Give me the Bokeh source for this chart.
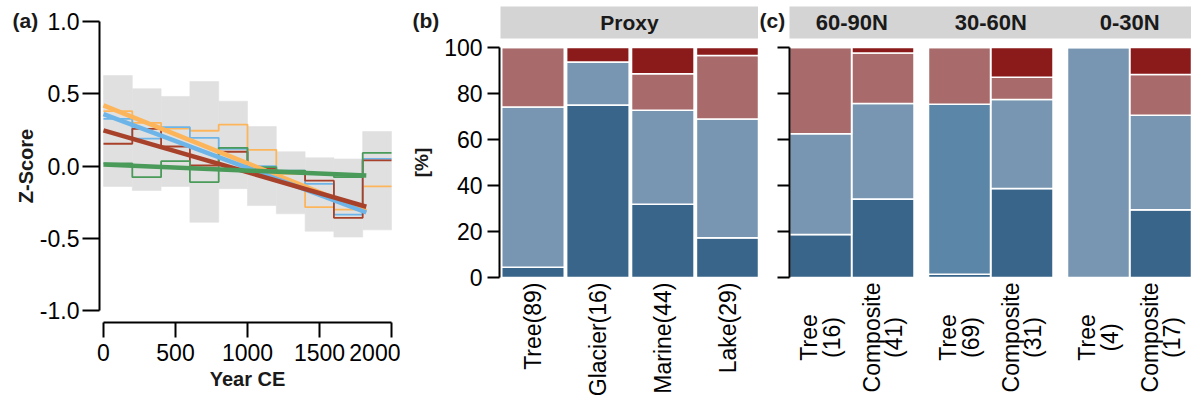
import math
from bokeh.plotting import figure
from bokeh.layouts import row
from bokeh.models import ColumnDataSource, FixedTicker, Range1d, LinearAxis
from bokeh.embed import file_html
from bokeh.resources import INLINE
from bokeh.core.properties import value

# ---------------- panel (a) data ----------------
bin_start = [0, 200, 400, 600, 800, 1000, 1200, 1400, 1600, 1800]
bin_width = 200
band_upper = [0.627, 0.535, 0.482, 0.585, 0.449, 0.274, 0.100, 0.058, 0.050, 0.240]
band_lower = [-0.140, -0.168, -0.140, -0.387, -0.155, -0.272, -0.329, -0.449, -0.490, -0.440]
orange_step = [0.38, 0.30, 0.26, 0.245, 0.288, 0.113, -0.053, -0.283, -0.300, -0.140]
blue_step = [0.327, 0.19, 0.27, 0.196, 0.12, 0.0, -0.03, -0.122, -0.334, 0.05]
brown_step = [0.155, 0.258, 0.136, 0.005, 0.100, -0.018, -0.040, -0.100, -0.357, 0.040]
green_step = [0.020, -0.076, 0.035, -0.110, 0.127, -0.007, -0.030, -0.050, -0.076, 0.092]
trend_years = [0, 1825]
orange_trend = [0.42, -0.31]
blue_trend = [0.36, -0.32]
brown_trend = [0.247, -0.28]
green_trend = [0.012, -0.065]
z_ticks = [-1.0, -0.5, 0.0, 0.5, 1.0]
z_labels = ["-1.0", "-0.5", "0.0", "0.5", "1.0"]
year_ticks = [0, 500, 1000, 1500, 2000]

# ---------------- panel (b) data ----------------
proxy_names = ["Tree", "Glacier", "Marine", "Lake"]
proxy_n = [89, 16, 44, 29]
proxy_dark_blue = [4, 12, 14, 5]
proxy_mid_blue = [0, 0, 0, 0]
proxy_light_blue = [62, 3, 18, 15]
proxy_light_red = [23, 0, 7, 8]
proxy_dark_red = [0, 1, 5, 1]

# ---------------- panel (c) data ----------------
regions = ["60-90N", "30-60N", "0-30N"]
archive_types = ["Tree", "Composite"]
reg_n = [16, 41, 69, 31, 4, 17]
reg_dark_blue = [3, 14, 1, 12, 0, 5]
reg_mid_blue = [0, 0, 51, 0, 0, 0]
reg_light_blue = [7, 17, 0, 12, 4, 7]
reg_light_red = [6, 9, 17, 3, 0, 3]
reg_dark_red = [0, 1, 0, 4, 0, 2]
pct_ticks = [0, 20, 40, 60, 80, 100]

stack_keys = ["dark_blue", "mid_blue", "light_blue", "light_red", "dark_red"]
stack_colors = ["#386589", "#5B86A8", "#7896B2", "#A86A6A", "#8B1A1A"]

FONT = "Liberation Sans"
TXT = "#1A1A1A"
STRIP = "#D4D4D4"
H = 400


def style_axis(ax, font_size="23px"):
    ax.axis_line_width = 2
    ax.axis_line_color = "black"
    ax.major_tick_line_width = 2
    ax.major_tick_line_color = "black"
    ax.minor_tick_line_color = None
    ax.major_tick_in = 0
    ax.major_label_text_font = FONT
    ax.major_label_text_font_size = font_size
    ax.major_label_text_color = "black"
    ax.axis_label_text_font = FONT
    ax.axis_label_text_font_style = "bold"
    ax.axis_label_text_color = TXT


def base_fig(w, xr, yr):
    p = figure(width=w, height=H, x_range=Range1d(*xr), y_range=Range1d(*yr),
               x_axis_type=None, y_axis_type=None, min_border=0,
               output_backend="svg", toolbar_location=None)
    p.outline_line_color = None
    p.grid.visible = False
    return p


def panel_label(p, text, x, y):
    p.text(x=[x], y=[y], text=[text], text_font=value(FONT), text_font_style="bold",
           text_font_size="21px", text_color=TXT, text_align="left", text_baseline="middle")


def pct(counts, n):
    return [100.0 * c / t for c, t in zip(counts, n)]


# ================= panel (a) =================
ax_px, ax_scale = 103.0, 0.144
az_py, az_scale = 165.7, 144.7
WA = 400
pa = base_fig(WA, ((0 - ax_px) / ax_scale, (WA - ax_px) / ax_scale),
              ((az_py - H) / az_scale, az_py / az_scale))

bin_end = [b + bin_width for b in bin_start]
pa.quad(left=bin_start, right=bin_end, bottom=band_lower, top=band_upper,
        fill_color="#E0E0E0", line_color="#E0E0E0", line_width=0.6)

step_x = bin_start + [bin_end[-1]]
for vals, col in [(orange_step, "#FDB55C"), (blue_step, "#6DB5E8"),
                  (brown_step, "#A8412A"), (green_step, "#4A9A5A")]:
    pa.step(step_x, vals + [vals[-1]], mode="after", line_color=col, line_width=1.8)

for vals, col in [(orange_trend, "#FDB55C"), (blue_trend, "#6DB5E8"),
                  (brown_trend, "#A8412A"), (green_trend, "#4A9A5A")]:
    pa.line(trend_years, vals, line_color=col, line_width=4.5)

xa = LinearAxis(fixed_location=(az_py - 322) / az_scale, ticker=FixedTicker(ticks=year_ticks),
                bounds=(year_ticks[0], year_ticks[-1]), axis_label="Year CE")
style_axis(xa)
xa.major_tick_out = 15
xa.major_label_standoff = 6
xa.axis_label_text_font_size = "20px"
xa.axis_label_standoff = 4
pa.add_layout(xa, "below")

ya = LinearAxis(fixed_location=(99 - ax_px) / ax_scale, ticker=FixedTicker(ticks=z_ticks),
                bounds=(z_ticks[0], z_ticks[-1]), axis_label="Z-Score",
                major_label_overrides={t: l for t, l in zip(z_ticks, z_labels)})
style_axis(ya)
ya.major_tick_out = 17
ya.major_label_standoff = 3
ya.axis_label_text_font_size = "20px"
ya.axis_label_standoff = 0
pa.add_layout(ya, "left")
panel_label(pa, "(a)", (12 - ax_px) / ax_scale, (az_py - 20) / az_scale)

# ================= panel (b) / (c) common y =================
y_py0, y_scale = 277.0, 2.3
yr_bc = ((y_py0 - H) / y_scale, y_py0 / y_scale)
strip_bottom = (y_py0 - 38) / y_scale
strip_top = (y_py0 - 6) / y_scale
strip_mid = (y_py0 - 22) / y_scale
label_mid = (y_py0 - 20) / y_scale
axis_floor = (y_py0 - 278) / y_scale

# ================= panel (b) =================
B_LEFT, WB = 400, 358
b_c0, b_pitch = 532.5, 64.9
b_x = list(range(1, len(proxy_names) + 1))
b_src = ColumnDataSource(dict(
    x=b_x,
    dark_blue=pct(proxy_dark_blue, proxy_n),
    mid_blue=pct(proxy_mid_blue, proxy_n),
    light_blue=pct(proxy_light_blue, proxy_n),
    light_red=pct(proxy_light_red, proxy_n),
    dark_red=pct(proxy_dark_red, proxy_n),
))
b_x0 = 1 + (B_LEFT - b_c0) / b_pitch
b_x1 = 1 + (B_LEFT + WB - b_c0) / b_pitch
pb = base_fig(WB, (b_x0, b_x1), yr_bc)

pb.quad(left=[1 + (500 - b_c0) / b_pitch], right=[b_x1 + 1], bottom=[strip_bottom], top=[strip_top],
        fill_color=STRIP, line_color=None)
pb.text(x=[1 + (629 - b_c0) / b_pitch], y=[strip_mid], text=["Proxy"],
        text_font=value(FONT), text_font_style="bold", text_font_size="21px",
        text_color=TXT, text_align="center", text_baseline="middle")

pb.vbar_stack(stack_keys, x="x", width=0.963, source=b_src, color=stack_colors,
              line_color="white", line_width=1.5)

yb = LinearAxis(fixed_location=1 + (499 - b_c0) / b_pitch, ticker=FixedTicker(ticks=pct_ticks),
                bounds=(0, 100), axis_label="[%]")
style_axis(yb)
yb.major_tick_out = 12
yb.major_label_standoff = 5
yb.axis_label_text_font_size = "19px"
yb.axis_label_standoff = 9
pb.add_layout(yb, "left")

xb = LinearAxis(fixed_location=axis_floor, ticker=FixedTicker(ticks=b_x),
                major_label_overrides={x: f"{nm}({n})" for x, nm, n in zip(b_x, proxy_names, proxy_n)},
                major_label_orientation=math.pi / 2)
style_axis(xb)
xb.axis_line_color = None
xb.major_tick_line_color = None
xb.major_tick_out = 0
xb.major_label_standoff = 4
pb.add_layout(xb, "below")
panel_label(pb, "(b)", 1 + (412 - b_c0) / b_pitch, label_mid)

# ================= panel (c) =================
C_LEFT = B_LEFT + WB
WC = 1191 - C_LEFT
c_c0, c_pitch = 820.0, 62.5
group_gap = 2.224
c_x = [g * group_gap + m for g in range(len(regions)) for m in range(len(archive_types))]
c_names = [t for _ in regions for t in archive_types]
c_src = ColumnDataSource(dict(
    x=c_x,
    dark_blue=pct(reg_dark_blue, reg_n),
    mid_blue=pct(reg_mid_blue, reg_n),
    light_blue=pct(reg_light_blue, reg_n),
    light_red=pct(reg_light_red, reg_n),
    dark_red=pct(reg_dark_red, reg_n),
))
c_x0 = (C_LEFT - c_c0) / c_pitch
c_x1 = (C_LEFT + WC - c_c0) / c_pitch
pc = base_fig(WC, (c_x0, c_x1), yr_bc)

c_axis_x = (789 - c_c0) / c_pitch
pc.quad(left=[c_axis_x], right=[c_x1 + 1], bottom=[strip_bottom], top=[strip_top],
        fill_color=STRIP, line_color=None)
pc.text(x=[g * group_gap + 0.5 for g in range(len(regions))], y=[strip_mid] * len(regions),
        text=regions, text_font=value(FONT), text_font_style="bold", text_font_size="22px",
        text_color=TXT, text_align="center", text_baseline="middle")

pc.vbar_stack(stack_keys, x="x", width=0.992, source=c_src, color=stack_colors,
              line_color="white", line_width=1.5)

yc = LinearAxis(fixed_location=c_axis_x, ticker=FixedTicker(ticks=pct_ticks), bounds=(0, 100),
                major_label_overrides={t: "" for t in pct_ticks})
style_axis(yc)
yc.major_tick_out = 12
yc.major_label_standoff = 0
pc.add_layout(yc, "left")

c_lab_y = (y_py0 - 337) / y_scale
pc.text(x=c_x, y=[c_lab_y] * len(c_x), text=[f"{nm}\n({n})" for nm, n in zip(c_names, reg_n)],
        angle=math.pi / 2, text_font=value(FONT), text_font_size="23px", text_color="black",
        text_align="center", text_baseline="middle", text_line_height=0.88)
panel_label(pc, "(c)", (759 - c_c0) / c_pitch, label_mid)

layout = row(pa, pb, pc, spacing=0)
open("out.html", "w").write(file_html(layout, INLINE))
